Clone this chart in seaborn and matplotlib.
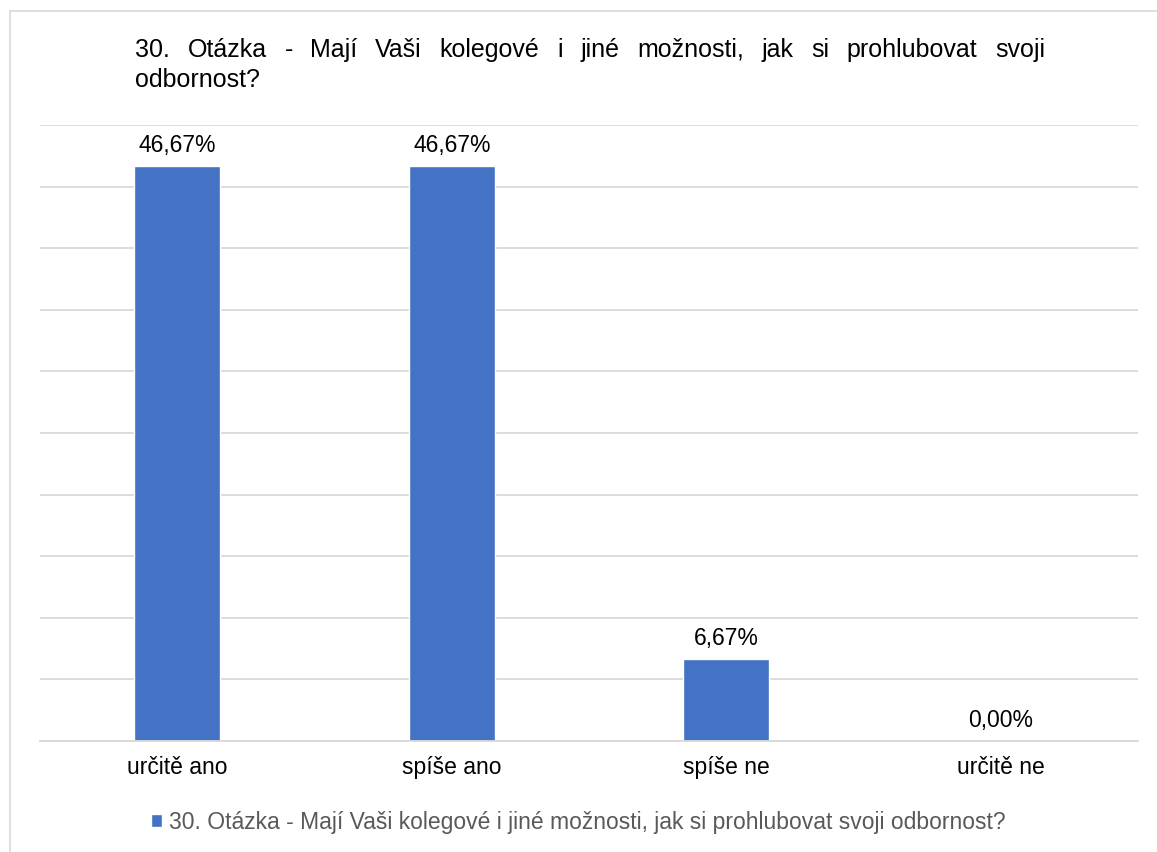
import matplotlib
matplotlib.use("Agg")
import matplotlib.pyplot as plt
import seaborn as sns
import pandas as pd
from matplotlib.patches import Rectangle

categories = ["určitě ano", "spíše ano", "spíše ne", "určitě ne"]
values = [46.67, 46.67, 6.67, 0.00]
series_name = "30. Otázka - Mají Vaši kolegové i jiné možnosti, jak si prohlubovat svoji odbornost?"
title_line1 = "30. Otázka - Mají Vaši kolegové i jiné možnosti, jak si prohlubovat svoji"
title_line2 = "odbornost?"

sns.set_theme(style="white")
plt.rcParams['font.family'] = ['Liberation Sans', 'DejaVu Sans']

W, H = 1157, 853
fig = plt.figure(figsize=(W / 100, H / 100), dpi=100)
fig.patch.set_facecolor("white")

# outer border
fig.add_artist(Rectangle((10 / W, -10 / H), (W + 10) / W, (H - 12 + 10) / H,
                         transform=fig.transFigure, fill=False,
                         edgecolor="#d9d9d9", linewidth=1.2))

ax = fig.add_axes([40 / W, 1 - 742 / H, (1138 - 40) / W, (742 - 126) / H])
df = pd.DataFrame({"cat": categories, "val": values})
sns.barplot(data=df, x="cat", y="val", color="#4472c4", width=0.313,
            saturation=1, ax=ax, label=series_name)

ax.set_ylim(0, 50)
ax.set_yticks(range(0, 51, 5))
ax.set_yticklabels([])
ax.tick_params(axis="y", length=0)
ax.tick_params(axis="x", length=0, labelsize=16.5, pad=10, colors="black")
ax.grid(axis="y", color="#d9d9d9", linewidth=1.3)
ax.set_axisbelow(True)
for s in ["top", "right", "left"]:
    ax.spines[s].set_visible(False)
ax.spines["bottom"].set_color("#d9d9d9")
ax.spines["bottom"].set_linewidth(1.3)
ax.set_xlabel("")
ax.set_ylabel("")
ax.set_xlim(-0.5, 3.5)

labels = [f"{v:.2f}%".replace(".", ",") for v in values]
ax.bar_label(ax.containers[0], labels=labels, padding=7, fontsize=16.5, color="black")

handles, lbls = ax.get_legend_handles_labels()
leg = ax.get_legend()
if leg is not None:
    leg.remove()
fig.legend(handles, lbls, loc="center", bbox_to_anchor=(0.5, 1 - 823 / H),
           frameon=False, fontsize=16.5, labelcolor="#595959",
           handlelength=0.5, handleheight=0.5, handletextpad=0.3)

# justified title
fig.canvas.draw()
renderer = fig.canvas.get_renderer()
left_px, right_px = 135, 1045
words = title_line1.split(" ")
txts = [fig.text(0, 1 - 57 / H, w, fontsize=18, color="black", va="baseline", ha="left")
        for w in words]
widths = [t.get_window_extent(renderer).width for t in txts]
gap = (right_px - left_px - sum(widths)) / (len(words) - 1)
x = left_px
for t, w in zip(txts, widths):
    t.set_x(x / W)
    x += w + gap
fig.text(left_px / W, 1 - 87 / H, title_line2, fontsize=18, color="black",
         va="baseline", ha="left")

fig.savefig("out.png", dpi=100, facecolor="white")
